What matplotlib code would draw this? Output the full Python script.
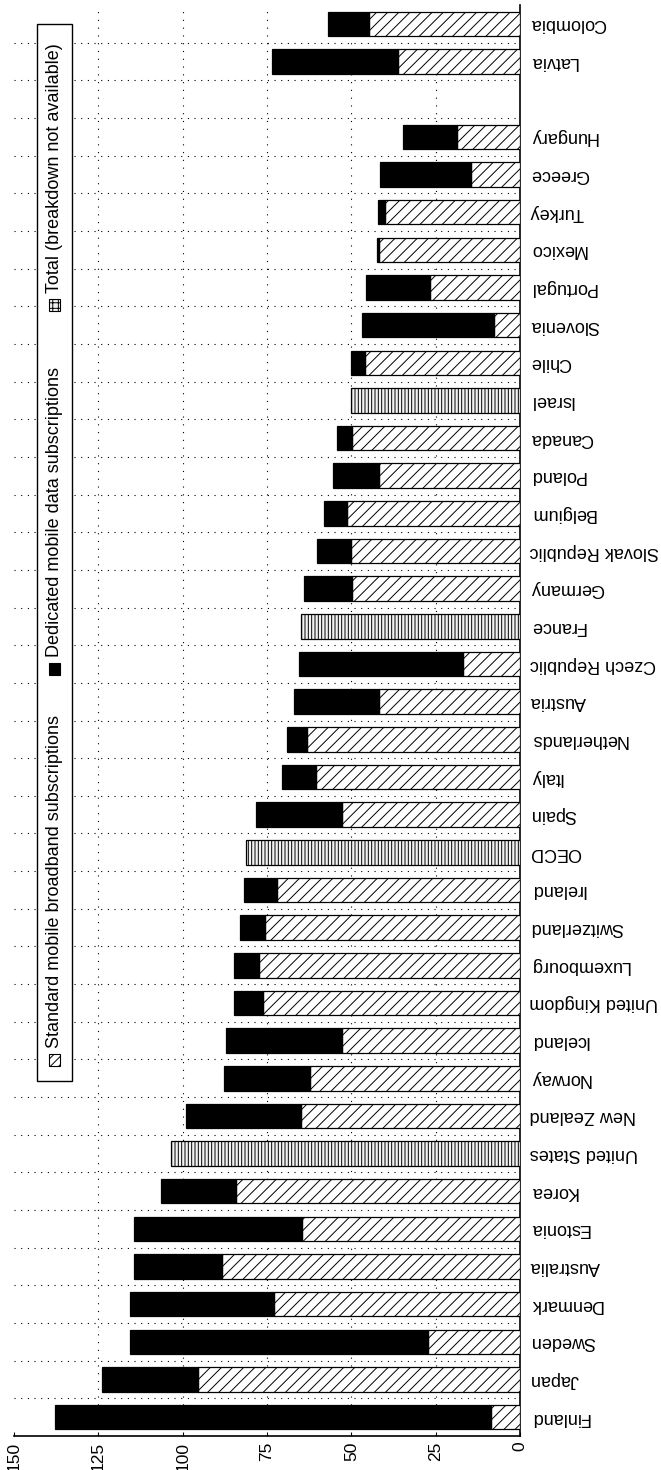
import numpy as np
import matplotlib
matplotlib.use("Agg")
import matplotlib.pyplot as plt
from matplotlib.patches import Rectangle

### ---- Data (bottom -> top)
countries = ['Finland', 'Japan', 'Sweden', 'Denmark', 'Australia', 'Estonia', 'Korea',
             'United States', 'New Zealand', 'Norway', 'Iceland', 'United Kingdom',
             'Luxembourg', 'Switzerland', 'Ireland', 'OECD', 'Spain', 'Italy',
             'Netherlands', 'Austria', 'Czech Republic', 'France', 'Germany',
             'Slovak Republic', 'Belgium', 'Poland', 'Canada', 'Israel', 'Chile',
             'Slovenia', 'Portugal', 'Mexico', 'Turkey', 'Greece', 'Hungary', '',
             'Latvia', 'Colombia']

nan = np.nan
standard = [8.7, 95.4, 27.3, 73.0, 88.3, 64.5, 84.2,
            nan, 65.0, 62.4, 52.9, 76.2,
            77.3, 75.7, 71.9, nan, 52.9, 60.4,
            63.0, 41.8, 16.8, nan, 49.7,
            50.2, 51.2, 41.8, 49.7, nan, 45.9,
            7.7, 26.7, 41.8, 40.1, 14.6, 18.7, nan,
            36.2, 44.9]

dedicated = [129.1, 28.6, 88.2, 42.5, 26.2, 50.0, 22.2,
             nan, 34.0, 25.4, 34.3, 8.5,
             7.4, 7.3, 10.0, nan, 25.4, 10.3,
             6.2, 25.2, 48.7, nan, 14.2,
             10.0, 6.8, 13.5, 4.6, nan, 4.1,
             39.2, 19.0, 0.5, 1.9, 26.9, 16.0, nan,
             37.3, 12.0]

total_only = [nan, nan, nan, nan, nan, nan, nan,
              103.6, nan, nan, nan, nan,
              nan, nan, nan, 81.3, nan, nan,
              nan, nan, nan, 64.8, nan,
              nan, nan, nan, nan, 50.0, nan,
              nan, nan, nan, nan, nan, nan, nan,
              nan, nan]

xticks = [0, 25, 50, 75, 100, 125, 150]

legend_labels = ['Standard mobile broadband subscriptions',
                 'Dedicated mobile data subscriptions',
                 'Total (breakdown not available)']

### ---- Style
plt.rcParams['font.family'] = ['Liberation Sans', 'DejaVu Sans']
plt.rcParams['font.size'] = 13
plt.rcParams['hatch.linewidth'] = 0.7

fig = plt.figure(figsize=(6.61, 14.7), dpi=100)
ax = fig.add_axes([0.0212, 0.0231, 0.7655, 0.9735])

y = np.arange(len(countries))
std = np.array(standard)
ded = np.array(dedicated)
tot = np.array(total_only)

bh = 0.65
ax.barh(y, std, height=bh, color='white', edgecolor='black', hatch='///',
        linewidth=0.9, zorder=3)
ax.barh(y, ded, left=std, height=bh, color='black', edgecolor='black',
        linewidth=0.9, zorder=3)
ax.barh(y, tot, height=bh, color='#f2f2f2', edgecolor='black', hatch='|||||',
        linewidth=0.9, zorder=3)

### ---- Axes
ax.set_xlim(150, 0)
ax.set_ylim(-0.5, len(countries) - 0.5)

ax.set_xticks(xticks)
ax.set_xticklabels([str(t) for t in xticks], rotation=90, va='top', ha='center',
                   fontsize=12.5)
ax.tick_params(axis='x', direction='in', length=3, width=0.8, pad=4)

ax.set_yticks(y)
ax.set_yticklabels(countries)
ax.tick_params(axis='y', length=0, left=False, labelleft=False,
               right=False, labelright=True, pad=7)
for lab in ax.get_yticklabels():
    lab.set_rotation(180)
    lab.set_ha('left')
    lab.set_va('center')

ax.spines['top'].set_visible(False)
ax.spines['left'].set_visible(False)
ax.spines['right'].set_linewidth(1.2)
ax.spines['bottom'].set_linewidth(1.2)

# dotted grid: value lines + separators between bars
for t in xticks[1:-1]:
    ax.axvline(t, color='black', linestyle=(0, (1, 6)), linewidth=0.8, zorder=1)
for s in y[:-1] + 0.5:
    ax.axhline(s, color='black', linestyle=(0, (1, 5)), linewidth=0.8, zorder=1)

### ---- Legend (rotated, drawn by hand)
fig.add_artist(Rectangle((0.056, 0.2646), 0.053, 0.7194, transform=fig.transFigure,
                         facecolor='white', edgecolor='black', linewidth=1.0, zorder=5))

lx = 0.0825
sw, sh = 0.017, 0.0077
items = [(0.279, 'white', '////'), (0.545, 'black', None), (0.7925, '#f2f2f2', '+++')]
for (ly, fc, hatch), text in zip(items, legend_labels):
    fig.add_artist(Rectangle((lx - sw / 2, ly - sh / 2), sw, sh, transform=fig.transFigure,
                             facecolor=fc, edgecolor='black', hatch=hatch,
                             linewidth=0.8, zorder=6))
    fig.text(lx, ly + sh / 2 + 0.004, text, rotation=90, ha='center', va='bottom',
             fontsize=13, zorder=7)

fig.savefig('out.png', dpi=100)
